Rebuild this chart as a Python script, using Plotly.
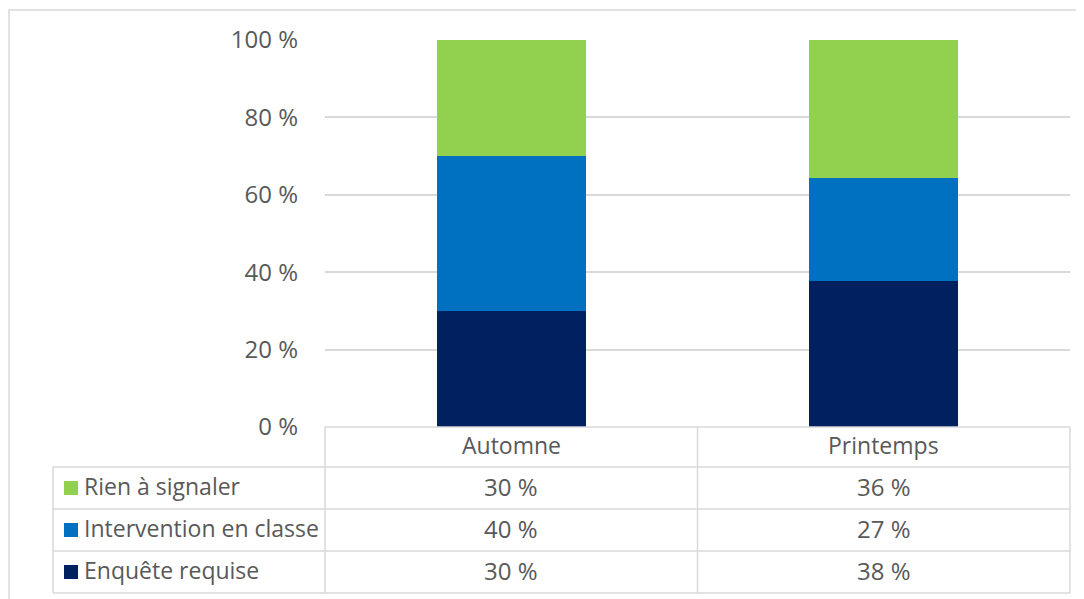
import plotly.graph_objects as go

categories = ["Automne", "Printemps"]
series_names = ["Enquête requise", "Intervention en classe", "Rien à signaler"]
enquete = [30.0, 37.6]
intervention = [40.0, 26.8]
rien = [30.0, 35.6]
colors = ["#002060", "#0070C0", "#92D050"]
tick_vals = [0, 20, 40, 60, 80, 100]
tick_text = ["0 %", "20 %", "40 %", "60 %", "80 %", "100 %"]

OFF = 8  # page body margin
W, H = 1084 - OFF, 599 - OFF
L, R, T, B = 325 - OFF, 1070 - OFF, 40 - OFF, 427 - OFF
FONT = "Open Sans"
TXT = "#595959"
GRID = "#D9D9D9"

def px(x):
    return (x - OFF - L) / (R - L)

def py(y):
    return (B - (y - OFF)) / (B - T)

values = [enquete, intervention, rien]
fig = go.Figure()
for name, vals, col in zip(series_names, values, colors):
    fig.add_trace(go.Bar(x=categories, y=vals, name=name, marker=dict(color=col, line=dict(width=0))))

shapes = []
annotations = []
shapes.append(dict(type="rect", xref="paper", yref="paper", x0=px(9), x1=px(1100), y0=py(620), y1=py(10),
                   line=dict(color=GRID, width=1.5), fillcolor="rgba(0,0,0,0)", layer="below"))

col_left = 53
pl, pr = 325, 1070
mid = (pl + pr) / 2
rows_y = [427, 467, 509, 551, 593]
line = dict(color=GRID, width=1.5)
shapes.append(dict(type="line", xref="paper", yref="paper", x0=px(pl), x1=px(pr), y0=py(rows_y[0]), y1=py(rows_y[0]), line=line))
for yy in rows_y[1:]:
    shapes.append(dict(type="line", xref="paper", yref="paper", x0=px(col_left), x1=px(pr), y0=py(yy), y1=py(yy), line=line))
shapes.append(dict(type="line", xref="paper", yref="paper", x0=px(col_left), x1=px(col_left), y0=py(rows_y[1]), y1=py(rows_y[-1]), line=line))
for xx in [pl, mid, pr]:
    shapes.append(dict(type="line", xref="paper", yref="paper", x0=px(xx), x1=px(xx), y0=py(rows_y[0]), y1=py(rows_y[-1]), line=line))

TFS = 23
NFS = 24
DY = 2  # text raise
for c in categories:
    annotations.append(dict(x=c, xref="x", y=py((rows_y[0] + rows_y[1]) / 2 - DY), yref="paper", text=c,
                            showarrow=False, font=dict(family=FONT, size=TFS, color=TXT), xanchor="center", yanchor="middle"))

row_order = [2, 1, 0]
for i, si in enumerate(row_order):
    yc = (rows_y[i + 1] + rows_y[i + 2]) / 2
    shapes.append(dict(type="rect", xref="paper", yref="paper", x0=px(64), x1=px(78), y0=py(yc + 7), y1=py(yc - 7),
                       fillcolor=colors[si], line=dict(width=0)))
    annotations.append(dict(x=px(82), xref="paper", y=py(yc - DY), yref="paper", text=series_names[si], showarrow=False,
                            font=dict(family=FONT, size=TFS, color=TXT), xanchor="left", yanchor="middle"))
    for c, v in zip(categories, values[si]):
        annotations.append(dict(x=c, xref="x", y=py(yc - DY), yref="paper", text=f"{v:.0f} %", showarrow=False,
                                font=dict(family=FONT, size=NFS, color=TXT), xanchor="center", yanchor="middle"))

fig.update_layout(
    width=W, height=H,
    barmode="stack", bargap=0.6,
    margin=dict(l=L, r=W - R, t=T, b=H - B, pad=0),
    paper_bgcolor="white", plot_bgcolor="white",
    showlegend=False,
    shapes=shapes, annotations=annotations,
    font=dict(family=FONT, color=TXT),
)
fig.update_xaxes(showticklabels=False, showgrid=False, zeroline=False, showline=False, ticks="")
fig.update_yaxes(range=[0, 100], tickvals=tick_vals, ticktext=tick_text, showgrid=True, gridcolor=GRID, gridwidth=1.5,
                 zeroline=False, showline=False, ticks="", ticklabelstandoff=26,
                 tickfont=dict(family=FONT, size=NFS, color=TXT))

fig.write_html("out.html")
